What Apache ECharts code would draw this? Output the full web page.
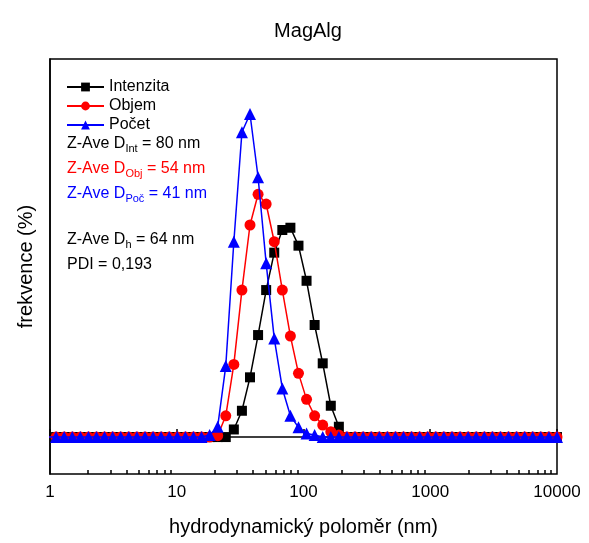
<!DOCTYPE html>
<html>
<head>
<meta charset="utf-8">
<script src="https://cdn.jsdelivr.net/npm/echarts@6/dist/echarts.min.js"></script>
<style>
html,body{margin:0;padding:0;background:#fff;}
#c{width:589px;height:543px;}
</style>
</head>
<body>
<div id="c"></div>
<script>
// Size bins (nm)
const sizes = [0.4, 0.4632, 0.5365, 0.6213, 0.7195, 0.8332, 0.9649, 1.117, 1.294, 1.499,
  1.736, 2.010, 2.328, 2.696, 3.122, 3.615, 4.187, 4.849, 5.615, 6.503,
  7.531, 8.721, 10.10, 11.70, 13.54, 15.69, 18.17, 21.04, 24.36, 28.21,
  32.67, 37.84, 43.82, 50.75, 58.77, 68.06, 78.82, 91.28, 105.7, 122.4,
  141.8, 164.2, 190.1, 220.2, 255.0, 295.3, 342.0, 396.1, 458.7, 531.2,
  615.1, 712.4, 825.0, 955.4, 1106, 1281, 1484, 1718, 1990, 2305,
  2669, 3091, 3580, 4145, 4801, 5560, 6439, 7456, 8635, 10000];

// Intenzita (%)
const intenzita = [0,0,0,0,0,0,0,0,0,0,
  0,0,0,0,0,0,0,0,0,0,
  0,0,0,0,0,0,0,0,0,0.5,
  1.73,3.93,6.71,9.67,12.13,13.62,13.77,12.59,10.28,7.37,
  4.85,2.06,0.68,0,0,0,0,0,0,0,
  0,0,0,0,0,0,0,0,0,0,
  0,0,0,0,0,0,0,0,0,0];

// Objem (%)
const objem = [0,0,0,0,0,0,0,0,0,0,
  0,0,0,0,0,0,0,0,0,0,
  0,0,0,0,0,0,0,0.09,1.40,4.78,
  9.67,13.95,15.97,15.33,12.85,9.67,6.64,4.19,2.48,1.40,
  0.79,0.35,0.13,0,0,0,0,0,0,0,
  0,0,0,0,0,0,0,0,0,0,
  0,0,0,0,0,0,0,0,0,0];

// Počet (%)
const pocet = [0,0,0,0,0,0,0,0,0,0,
  0,0,0,0,0,0,0,0,0,0,
  0,0,0,0,0,0,0.13,0.68,4.67,12.85,
  20.05,21.25,17.09,11.43,6.49,3.20,1.40,0.64,0.24,0.13,
  0,0,0,0,0,0,0,0,0,0,
  0,0,0,0,0,0,0,0,0,0,
  0,0,0,0,0,0,0,0,0,0];

const xMajorTicks = [1, 10, 100, 1000, 10000];
const xMinorTicks = [2,3,4,5,6,7,8,9,20,30,40,50,60,70,80,90,200,300,400,500,600,700,800,900,2000,3000,4000,5000,6000,7000,8000,9000];

const font = '"Liberation Sans", Arial, sans-serif';
const pair = (ys) => sizes.map((s, i) => [s, ys[i]]);
const subStyle = (c) => ({s: {fontSize: 11, fontFamily: font, fill: c, verticalAlign: 'bottom', padding: [10, 0, 0, 0]}});

const chart = echarts.init(document.getElementById('c'), null, {renderer: 'canvas'});
chart.setOption({
  animation: false,
  backgroundColor: '#fff',
  textStyle: {fontFamily: font},
  title: {
    text: 'MagAlg', left: 303, top: 16, textAlign: 'center',
    textStyle: {fontFamily: font, fontSize: 20, fontWeight: 'normal', color: '#000'}
  },
  grid: {left: 50, right: 32, top: 59, bottom: 69, show: true, borderColor: '#000', borderWidth: 1.5, backgroundColor: 'transparent'},
  legend: {
    orient: 'vertical', left: 61, top: 74, itemWidth: 37, itemHeight: 11, itemGap: 3,
    textStyle: {fontFamily: font, fontSize: 16, color: '#000'},
    data: ['Intenzita', 'Objem', 'Počet']
  },
  xAxis: [{
    type: 'log', logBase: 10, min: 1, max: 10000,
    name: 'hydrodynamický poloměr (nm)', nameLocation: 'middle', nameGap: 43,
    nameTextStyle: {fontFamily: font, fontSize: 20, color: '#000'},
    axisLine: {show: true, lineStyle: {color: '#000', width: 1.5}},
    axisTick: {show: true, inside: true, length: 8, lineStyle: {color: '#000', width: 1.5}, customValues: xMajorTicks},
    axisLabel: {fontFamily: font, fontSize: 17, color: '#000', margin: 10, customValues: xMajorTicks,
      formatter: (v) => String(Math.round(v))},
    splitLine: {show: false}, minorTick: {show: false}
  }, {
    type: 'log', logBase: 10, min: 1, max: 10000, position: 'bottom', gridIndex: 0,
    axisLine: {show: false},
    axisTick: {show: true, inside: true, length: 4, lineStyle: {color: '#000', width: 1.5}, customValues: xMinorTicks},
    axisLabel: {show: false},
    splitLine: {show: false}
  }],
  yAxis: {
    type: 'value', min: -2.43, max: 24.87,
    name: 'frekvence (%)', nameLocation: 'middle', nameGap: 14,
    nameTextStyle: {fontFamily: font, fontSize: 20, color: '#000'},
    axisLine: {show: true, lineStyle: {color: '#000', width: 1.5}},
    axisTick: {show: false}, axisLabel: {show: false}, splitLine: {show: false}
  },
  series: [
    {name: 'Intenzita', type: 'line', data: pair(intenzita), symbol: 'rect', symbolSize: 10,
     color: '#000', lineStyle: {width: 1.5, color: '#000'}, itemStyle: {color: '#000'}, clip: true, z: 2},
    {name: 'Objem', type: 'line', data: pair(objem), symbol: 'circle', symbolSize: 11,
     color: '#ff0000', lineStyle: {width: 1.5, color: '#ff0000'}, itemStyle: {color: '#ff0000'}, clip: true, z: 3},
    {name: 'Počet', type: 'line', data: pair(pocet), symbol: 'triangle', symbolSize: 12,
     color: '#0000ff', lineStyle: {width: 1.5, color: '#0000ff'}, itemStyle: {color: '#0000ff'}, clip: true, z: 4}
  ],
  graphic: [
    {type: 'text', left: 67, top: 136, style: {
      text: 'Z-Ave D{s|Int} = 80 nm', fill: '#000', font: '16px ' + font, rich: subStyle('#000')}},
    {type: 'text', left: 67, top: 161, style: {
      text: 'Z-Ave D{s|Obj} = 54 nm', fill: '#ff0000', font: '16px ' + font, rich: subStyle('#ff0000')}},
    {type: 'text', left: 67, top: 186, style: {
      text: 'Z-Ave D{s|Poč} = 41 nm', fill: '#0000ff', font: '16px ' + font, rich: subStyle('#0000ff')}},
    {type: 'text', left: 67, top: 232, style: {
      text: 'Z-Ave D{s|h} = 64 nm', fill: '#000', font: '16px ' + font, rich: subStyle('#000')}},
    {type: 'text', left: 67, top: 257, style: {
      text: 'PDI = 0,193', fill: '#000', font: '16px ' + font}}
  ]
});
</script>
</body>
</html>
